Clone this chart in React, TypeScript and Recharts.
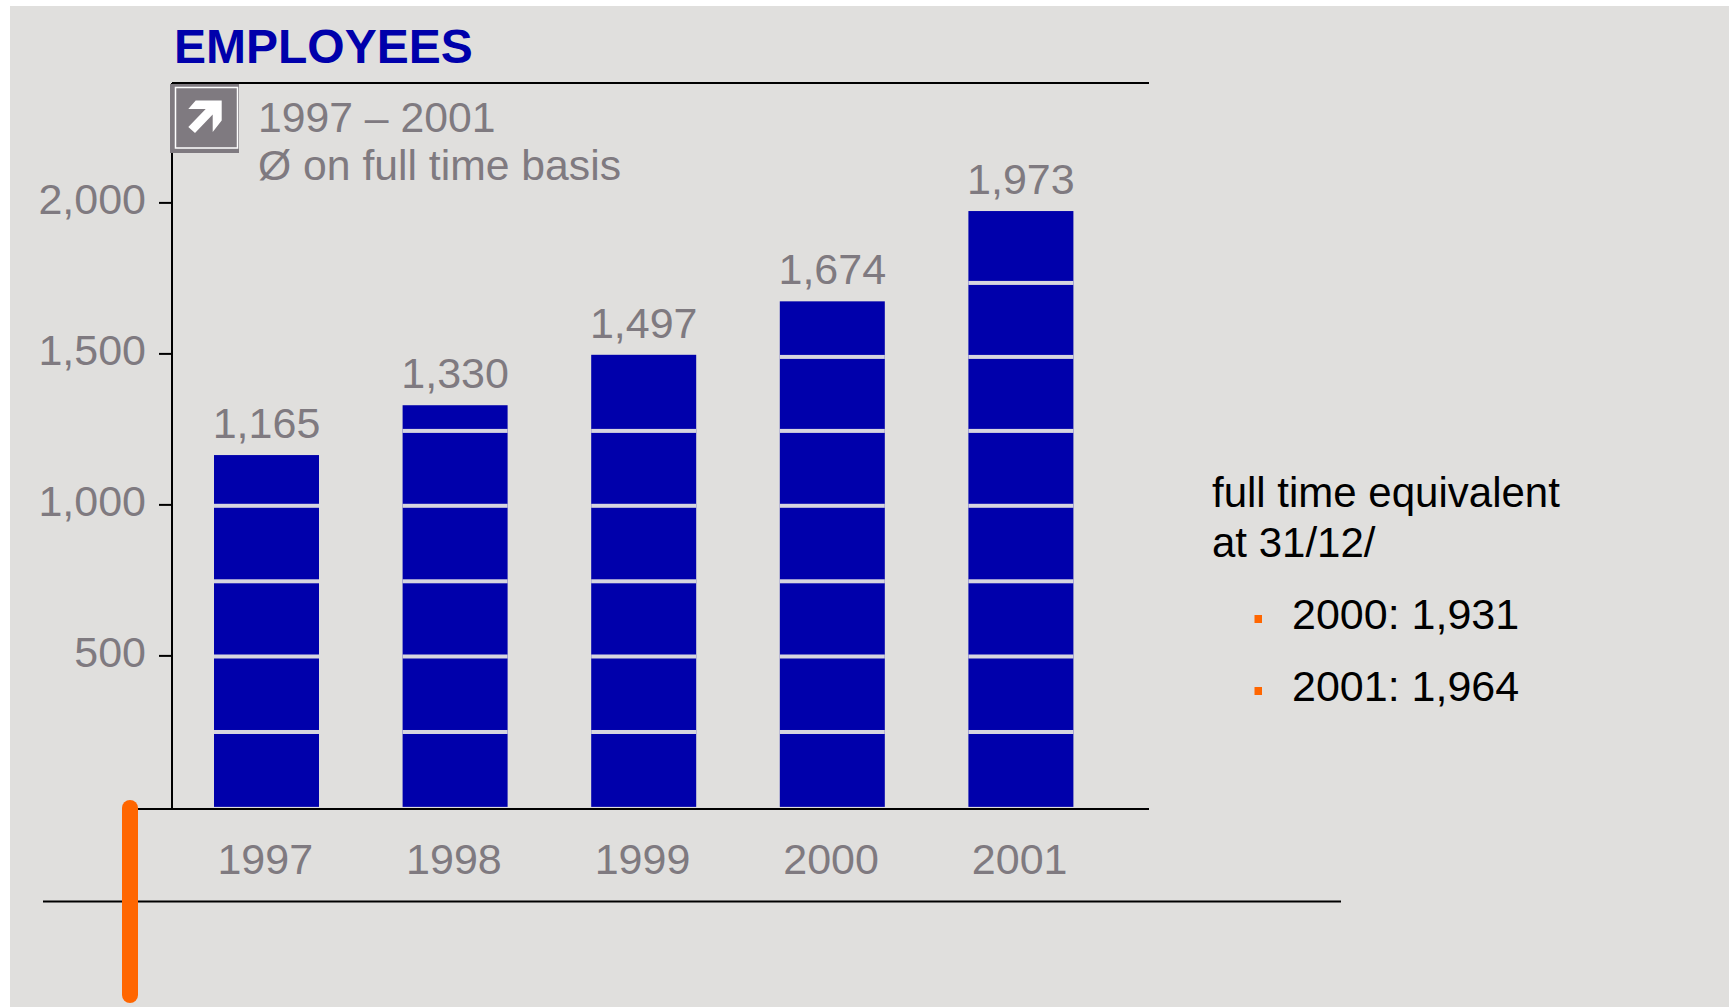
import React from 'react';
import { BarChart, Bar, XAxis, YAxis, ReferenceLine, LabelList } from 'recharts';

const years = ['1997', '1998', '1999', '2000', '2001'];
const employees = [1165, 1330, 1497, 1674, 1973];
const yTicks = [500, 1000, 1500, 2000];
// white divider lines across the bars, in employee units
const dividers = [248, 498, 747, 997, 1245, 1490, 1735];
const subtitleLines = ['1997 – 2001', 'Ø on full time basis'];
const noteLines = ['full time equivalent', 'at 31/12/'];
const noteItems = ['2000: 1,931', '2001: 1,964'];

const data = years.map((year, i) => ({ year, employees: employees[i] }));

const FONT = '"Liberation Sans", Arial, sans-serif';
const GREY = '#7f7a80';
const BLUE = '#0000ab';
const ORANGE = '#ff6600';
const PAPER = '#e0dfdd';

const fmt = (v: number) => v.toLocaleString('en-US');

// Solid bar with thin dividers at the fixed unit steps
function DividedBar({ x, y, width, height, value }: any) {
  const perUnit = height / value;
  return (
    <g>
      <rect x={x} y={y} width={width} height={height} fill={BLUE} />
      {dividers
        .filter((d) => d < value - 10)
        .map((d) => (
          <rect
            key={d}
            x={x}
            y={y + height - d * perUnit - 2}
            width={width}
            height={4}
            fill="#d6d5df"
          />
        ))}
    </g>
  );
}

function YTick({ x, y, payload }: any) {
  return (
    <text x={x + 2} y={y + 11} textAnchor="end" fontFamily={FONT} fontSize={43} fill={GREY}>
      {fmt(payload.value)}
    </text>
  );
}

function XTick({ x, y, payload }: any) {
  return (
    <text x={x - 1} y={y + 57} textAnchor="middle" fontFamily={FONT} fontSize={43} fill={GREY}>
      {payload.value}
    </text>
  );
}

export default function App() {
  return (
    <div style={{ position: 'absolute', left: 0, top: 0, width: 1729, height: 1008, background: '#fff', overflow: 'hidden' }}>
      <div style={{ position: 'absolute', left: 10, top: 6, width: 1719, height: 1001, background: PAPER }} />

      <div style={{ position: 'absolute', left: 0, top: 0 }}>
        <BarChart
          width={1729}
          height={1008}
          data={data}
          margin={{ top: 83, right: 580, bottom: 0, left: 0 }}
          barCategoryGap={0}
        >
          <XAxis
            dataKey="year"
            height={199}
            padding={{ left: 0, right: 34 }}
            tickLine={false}
            axisLine={{ stroke: '#000', strokeWidth: 2 }}
            tick={<XTick />}
            interval={0}
          />
          <YAxis
            width={172}
            domain={[-7, 2397]}
            ticks={yTicks}
            tickSize={13}
            tickMargin={15}
            axisLine={{ stroke: '#000', strokeWidth: 2 }}
            tickLine={{ stroke: '#000', strokeWidth: 2 }}
            tick={<YTick />}
            allowDataOverflow
          />
          <ReferenceLine y={2397} stroke="#000" strokeWidth={2} />
          <Bar dataKey="employees" barSize={105} shape={<DividedBar />} isAnimationActive={false}>
            <LabelList
              dataKey="employees"
              position="top"
              offset={17}
              formatter={fmt}
              style={{ fontFamily: FONT, fontSize: 43, fill: GREY }}
            />
          </Bar>
        </BarChart>
      </div>

      <svg width={1729} height={1008} style={{ position: 'absolute', left: 0, top: 0 }} fontFamily={FONT}>
        <text x={174} y={63} fontSize={48} fontWeight="bold" fill={BLUE}>EMPLOYEES</text>

        {/* arrow badge in the chart's top left corner */}
        <rect x={170} y={84} width={69} height={69} fill={GREY} />
        <rect x={175.5} y={87.5} width={62} height={60.5} fill="none" stroke="#fff" strokeWidth={1.5} />
        <polygon
          points="195.7,100.5 221.7,100.5 221.7,120.5 212.7,132 212.7,114.5 195,133 188.3,127 205.7,109 188.3,109"
          fill="#fff"
        />

        {subtitleLines.map((line, i) => (
          <text key={line} x={258} y={132 + i * 47.5} fontSize={42.7} fill={GREY}>{line}</text>
        ))}

        {noteLines.map((line, i) => (
          <text key={line} x={1212} y={507 + i * 50} fontSize={42} fill="#000">{line}</text>
        ))}
        {noteItems.map((line, i) => (
          <g key={line}>
            <rect x={1254.5} y={615 + i * 72} width={7.5} height={8} fill={ORANGE} />
            <text x={1292} y={629 + i * 72} fontSize={43} fill="#000">{line}</text>
          </g>
        ))}

        {/* axis stub and footer rule, orange marker sits on top */}
        <line x1={130} x2={173} y1={809} y2={809} stroke="#000" strokeWidth={2} />
        <line x1={43} x2={1341} y1={901.5} y2={901.5} stroke="#000" strokeWidth={2} />
        <rect x={122} y={800} width={16} height={203} rx={8} fill={ORANGE} />
      </svg>
    </div>
  );
}
